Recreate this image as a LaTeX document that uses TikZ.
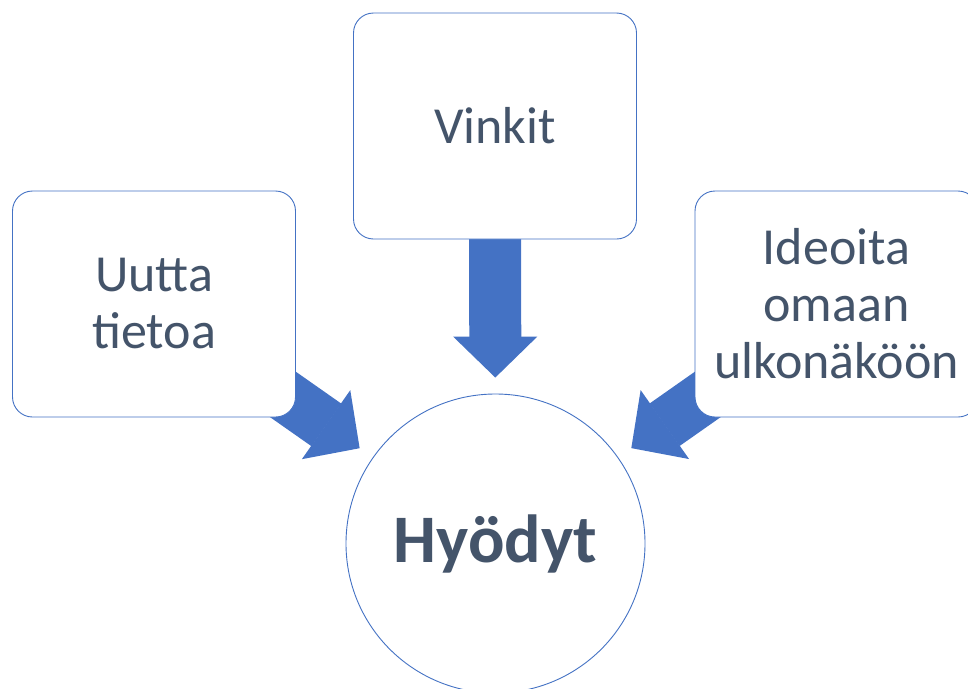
\documentclass[tikz,border=0pt]{standalone}
\usepackage{fontspec}
\setmainfont{Carlito}
\usepackage{xcolor}
\usetikzlibrary{arrows.meta, backgrounds}
\definecolor{accent}{HTML}{4472C4}
\definecolor{textdark}{HTML}{44546A}
\tikzset{
  card/.style={draw=accent, line width=0.9pt, fill=white, rounded corners=20pt,
    minimum width=283pt, minimum height=226pt, align=center, text=textdark,
    font=\fontsize{52}{57}\selectfont},
  hub/.style={circle, draw=accent, line width=0.9pt, fill=white, minimum size=299pt,
    text=textdark, font=\fontsize{68}{72}\selectfont\bfseries},
  blockarrow/.style={draw=accent, line width=52pt, shorten >=16pt,
    -{Triangle[width=84pt,length=41pt,line width=1.5pt]}}
}
\begin{document}
\begin{tikzpicture}[x=1pt, y=-1pt]
\useasboundingbox (0,0) rectangle (968,688);
%
\node[hub](hyodyt) at (495.5,543.5) {Hyödyt};
%
\node[card](vinkit) at (495,126) {Vinkit};
\node[card](uutta) at (154,304) {Uutta\\tietoa};
\node[card](ideoita) at (836.5,304) {Ideoita\\omaan\\ulkonäköön};
%
\begin{scope}[on background layer]
\draw[blockarrow](vinkit.center) -- (hyodyt) {};
\draw[blockarrow](uutta.center) -- (hyodyt) {};
\draw[blockarrow](ideoita.center) -- (hyodyt) {};
\end{scope}
\end{tikzpicture}
\end{document}
